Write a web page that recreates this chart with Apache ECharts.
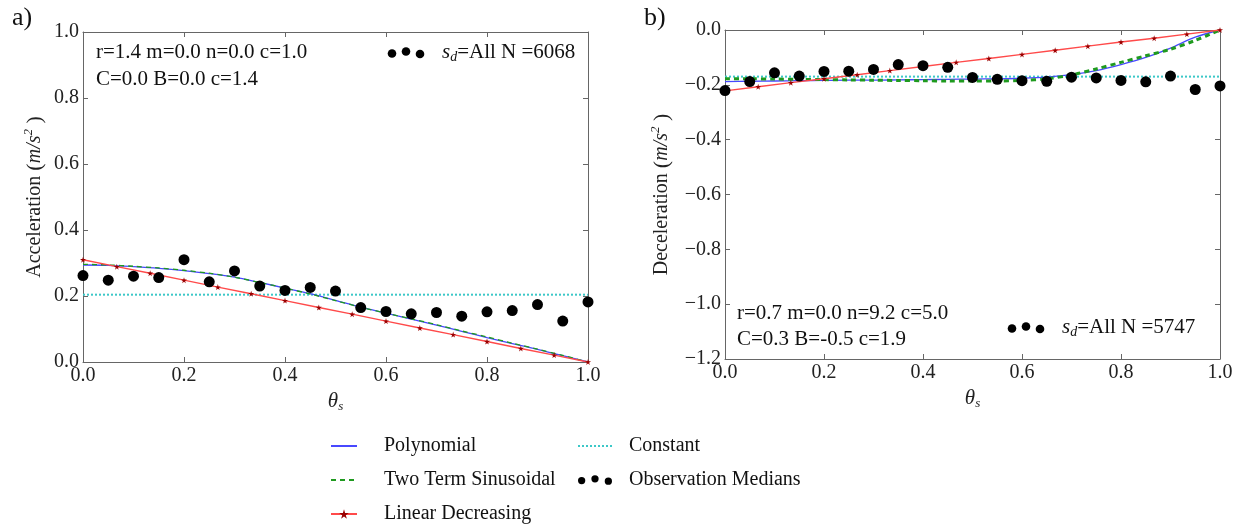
<!DOCTYPE html>
<html>
<head>
<meta charset="utf-8">
<script src="https://cdn.jsdelivr.net/npm/echarts@6/dist/echarts.min.js"></script>
<style>
  html, body { margin: 0; padding: 0; background: #fff; }
  #main { width: 1239px; height: 527px; }
</style>
</head>
<body>
<div id="main"></div>
<script>
// theta_s positions of the observation medians and of the fitted curves
var xObs = [0, 0.05, 0.1, 0.15, 0.2, 0.25, 0.3, 0.35, 0.4, 0.45, 0.5, 0.55, 0.6, 0.65, 0.7, 0.75, 0.8, 0.85, 0.9, 0.95, 1.0];
var xFit = [0, 0.05, 0.1, 0.15, 0.2, 0.25, 0.3, 0.35, 0.4, 0.45, 0.5, 0.55, 0.6, 0.65, 0.7, 0.75, 0.8, 0.85, 0.9, 0.95, 1.0];
var xLin = [0, 0.067, 0.133, 0.2, 0.267, 0.333, 0.4, 0.467, 0.533, 0.6, 0.667, 0.733, 0.8, 0.867, 0.933, 1.0];

// a) acceleration
var obsA = [0.262, 0.248, 0.260, 0.256, 0.310, 0.243, 0.276, 0.230, 0.217, 0.226, 0.215, 0.165, 0.153, 0.146, 0.150, 0.139, 0.152, 0.156, 0.174, 0.124, 0.182];
var polyA = [0.294, 0.293, 0.289, 0.284, 0.277, 0.268, 0.257, 0.241, 0.224, 0.207, 0.187, 0.166, 0.148, 0.130, 0.112, 0.093, 0.074, 0.056, 0.038, 0.019, 0.0];
var sinA = [0.296, 0.294, 0.290, 0.285, 0.278, 0.269, 0.257, 0.241, 0.224, 0.206, 0.186, 0.166, 0.148, 0.131, 0.113, 0.094, 0.076, 0.057, 0.039, 0.020, 0.0];
var linA = [0.310, 0.289, 0.269, 0.248, 0.227, 0.207, 0.186, 0.165, 0.145, 0.124, 0.103, 0.083, 0.062, 0.041, 0.021, 0.0];
var constA = 0.204;

// b) deceleration
var obsB = [-0.221, -0.188, -0.156, -0.168, -0.151, -0.150, -0.144, -0.126, -0.130, -0.136, -0.173, -0.180, -0.185, -0.187, -0.172, -0.175, -0.184, -0.189, -0.168, -0.217, -0.204];
var polyB = [-0.188, -0.187, -0.186, -0.185, -0.184, -0.183, -0.183, -0.182, -0.181, -0.180, -0.179, -0.178, -0.176, -0.172, -0.163, -0.148, -0.126, -0.100, -0.066, -0.026, 0.0];
var sinB = [-0.178, -0.178, -0.179, -0.180, -0.181, -0.182, -0.183, -0.184, -0.185, -0.186, -0.186, -0.186, -0.184, -0.178, -0.164, -0.142, -0.118, -0.094, -0.070, -0.038, 0.0];
var linB = [-0.222, -0.207, -0.192, -0.178, -0.163, -0.148, -0.133, -0.118, -0.104, -0.089, -0.074, -0.059, -0.044, -0.030, -0.015, 0.0];
var constB = -0.170;

var yTicksA = [0, 1];
var yTicksB = [-1.2, 0];

var FONT = 'Liberation Serif';
var star = 'path://M50,0 L61,35 L98,35 L68,57 L79,91 L50,70 L21,91 L32,57 L2,35 L39,35 Z';
var dots = 'path://M0,7a3,3 0 1,0 6,0a3,3 0 1,0 -6,0Z M11,5.5a3,3 0 1,0 6,0a3,3 0 1,0 -6,0Z M22,7.5a3,3 0 1,0 6,0a3,3 0 1,0 -6,0Z';

function pairs(xs, ys) {
  var out = [];
  for (var i = 0; i < xs.length; i++) out.push([xs[i], ys[i]]);
  return out;
}
function fmt(v) {
  return (v < -1e-9 ? '\u2212' : '') + Math.abs(v).toFixed(1);
}

var lineAx = { show: true, onZero: false, lineStyle: { color: '#666', width: 1 } };
var tickAx = { show: true, inside: true, length: 5, lineStyle: { color: '#666' } };

function xAx(grid, pos, withLabel) {
  var a = {
    type: 'value', gridIndex: grid, position: pos, min: 0, max: 1, interval: 0.2,
    axisLine: lineAx, axisTick: tickAx, splitLine: { show: false },
    axisLabel: { show: withLabel, formatter: fmt, margin: 4, fontFamily: FONT, fontSize: 20, color: '#222' }
  };
  if (withLabel) {
    a.name = '{i|\u03b8}{sub|s}';
    a.nameLocation = 'middle';
    a.nameGap = 24;
    a.nameTextStyle = {
      fontFamily: FONT, color: '#222',
      rich: {
        i: { fontFamily: FONT, fontStyle: 'italic', fontSize: 21, lineHeight: 24, color: '#222' },
        sub: { fontFamily: FONT, fontStyle: 'italic', fontSize: 13, lineHeight: 12, verticalAlign: 'bottom', color: '#222' }
      }
    };
  }
  return a;
}
function yAx(grid, pos, ticks, withLabel, title, gap) {
  var a = {
    type: 'value', gridIndex: grid, position: pos, min: ticks[0], max: ticks[1], interval: 0.2,
    axisLine: lineAx, axisTick: tickAx, splitLine: { show: false },
    axisLabel: { show: withLabel, formatter: fmt, margin: 4, fontFamily: FONT, fontSize: 20, color: '#222' }
  };
  if (withLabel) {
    a.name = '{t|' + title + ' }{p|(}{i|m/s}{sup|2}{p| )}';
    a.nameLocation = 'middle';
    a.nameRotate = 90;
    a.nameGap = gap;
    a.nameTextStyle = {
      fontFamily: FONT, color: '#222',
      rich: {
        t: { fontFamily: FONT, fontSize: 20, lineHeight: 26, color: '#222' },
        p: { fontFamily: FONT, fontSize: 22, lineHeight: 26, color: '#222' },
        i: { fontFamily: FONT, fontStyle: 'italic', fontSize: 20, lineHeight: 26, color: '#222' },
        sup: { fontFamily: FONT, fontStyle: 'italic', fontSize: 13, lineHeight: 14, verticalAlign: 'top', color: '#222' }
      }
    };
  }
  return a;
}

function panelSeries(xi, yi, obs, poly, sin, lin, cst, sinWidth) {
  return [
    { name: 'Polynomial', type: 'line', xAxisIndex: xi, yAxisIndex: yi, data: pairs(xFit, poly),
      smooth: 0.3, symbol: 'none', lineStyle: { color: '#4848ff', width: 1.3 }, itemStyle: { color: '#4848ff' }, z: 3 },
    { name: 'Two Term Sinusoidal', type: 'line', xAxisIndex: xi, yAxisIndex: yi, data: pairs(xFit, sin),
      smooth: 0.3, symbol: 'none', lineStyle: { color: '#1f9a1f', width: sinWidth, type: [5, 4] }, itemStyle: { color: '#1f9a1f' }, z: 4 },
    { name: 'Linear Decreasing', type: 'line', xAxisIndex: xi, yAxisIndex: yi, data: pairs(xLin, lin),
      symbol: star, symbolSize: 6, showSymbol: true,
      lineStyle: { color: '#ff4a4a', width: 1.4 }, itemStyle: { color: '#9a0000' }, z: 5 },
    { name: 'Constant', type: 'line', xAxisIndex: xi, yAxisIndex: yi, data: [[0, cst], [1, cst]],
      symbol: 'none', lineStyle: { color: '#3cc8c8', width: 2, type: [2, 2] }, itemStyle: { color: '#3cc8c8' }, z: 2 },
    { name: 'Observation Medians', type: 'scatter', xAxisIndex: xi, yAxisIndex: yi, data: pairs(xObs, obs),
      symbol: 'circle', symbolSize: 11, itemStyle: { color: '#000', opacity: 1 }, z: 6 }
  ];
}

function sdLegend(cx, cy, n) {
  // small in-panel legend: three dots and the label
  return [
    { type: 'circle', shape: { cx: cx, cy: cy + 1.5, r: 4.3 }, style: { fill: '#000' } },
    { type: 'circle', shape: { cx: cx + 14, cy: cy - 0.5, r: 4.3 }, style: { fill: '#000' } },
    { type: 'circle', shape: { cx: cx + 28, cy: cy + 2, r: 4.3 }, style: { fill: '#000' } },
    { type: 'text', x: cx + 50, y: cy, style: {
        text: '{i|s}{sub|d}{n|=All N =' + n + '}', verticalAlign: 'middle', fill: '#111',
        rich: {
          i: { fontFamily: FONT, fontStyle: 'italic', fontSize: 21, lineHeight: 24 },
          sub: { fontFamily: FONT, fontStyle: 'italic', fontSize: 14, lineHeight: 12, verticalAlign: 'bottom' },
          n: { fontFamily: FONT, fontSize: 21, lineHeight: 24 }
        } } }
  ];
}
function note(x, y, t) {
  return { type: 'text', x: x, y: y, style: { text: t, fontFamily: FONT, fontSize: 21, fill: '#111', verticalAlign: 'middle' } };
}

var hideSym = { opacity: 0 };

var chart = echarts.init(document.getElementById('main'));
var option = {
  animation: false,
  backgroundColor: '#fff',
  grid: [
    { left: 83, top: 32, width: 505, height: 330 },
    { left: 725, top: 30, width: 495, height: 329 }
  ],
  xAxis: [xAx(0, 'bottom', true), xAx(0, 'top', false), xAx(1, 'bottom', true), xAx(1, 'top', false)],
  yAxis: [
    yAx(0, 'left', yTicksA, true, 'Acceleration', 35), yAx(0, 'right', yTicksA, false),
    yAx(1, 'left', yTicksB, true, 'Deceleration', 50), yAx(1, 'right', yTicksB, false)
  ],
  legend: [
    { left: 330, top: 435, orient: 'vertical', padding: 0, itemWidth: 26, itemHeight: 12, itemGap: 12,
      data: [{ name: 'Polynomial', itemStyle: hideSym }, { name: 'Two Term Sinusoidal', itemStyle: hideSym }, 'Linear Decreasing'],
      textStyle: { fontFamily: FONT, fontSize: 20, lineHeight: 22, color: '#111', padding: [0, 0, 0, 22] } },
    { left: 577, top: 435, orient: 'vertical', padding: 0, itemWidth: 34, itemHeight: 12, itemGap: 12,
      data: [{ name: 'Constant', itemStyle: hideSym }, { name: 'Observation Medians', icon: dots }],
      textStyle: { fontFamily: FONT, fontSize: 20, lineHeight: 22, color: '#111', padding: [0, 0, 0, 12] } }
  ],
  graphic: [
    { type: 'text', x: 12, y: 18, style: { text: 'a)', fontFamily: FONT, fontSize: 26, fill: '#111', verticalAlign: 'middle' } },
    { type: 'text', x: 644, y: 18, style: { text: 'b)', fontFamily: FONT, fontSize: 26, fill: '#111', verticalAlign: 'middle' } },
    note(96, 52, 'r=1.4 m=0.0 n=0.0 c=1.0'),
    note(96, 79, 'C=0.0 B=0.0 c=1.4'),
    note(737, 313, 'r=0.7 m=0.0 n=9.2 c=5.0'),
    note(737, 339, 'C=0.3 B=-0.5 c=1.9')
  ].concat(sdLegend(392, 52, 6068)).concat(sdLegend(1012, 327, 5747)),
  series: panelSeries(0, 0, obsA, polyA, sinA, linA, constA, 1.3)
    .concat(panelSeries(2, 2, obsB, polyB, sinB, linB, constB, 3))
};
chart.setOption(option);
</script>
</body>
</html>
